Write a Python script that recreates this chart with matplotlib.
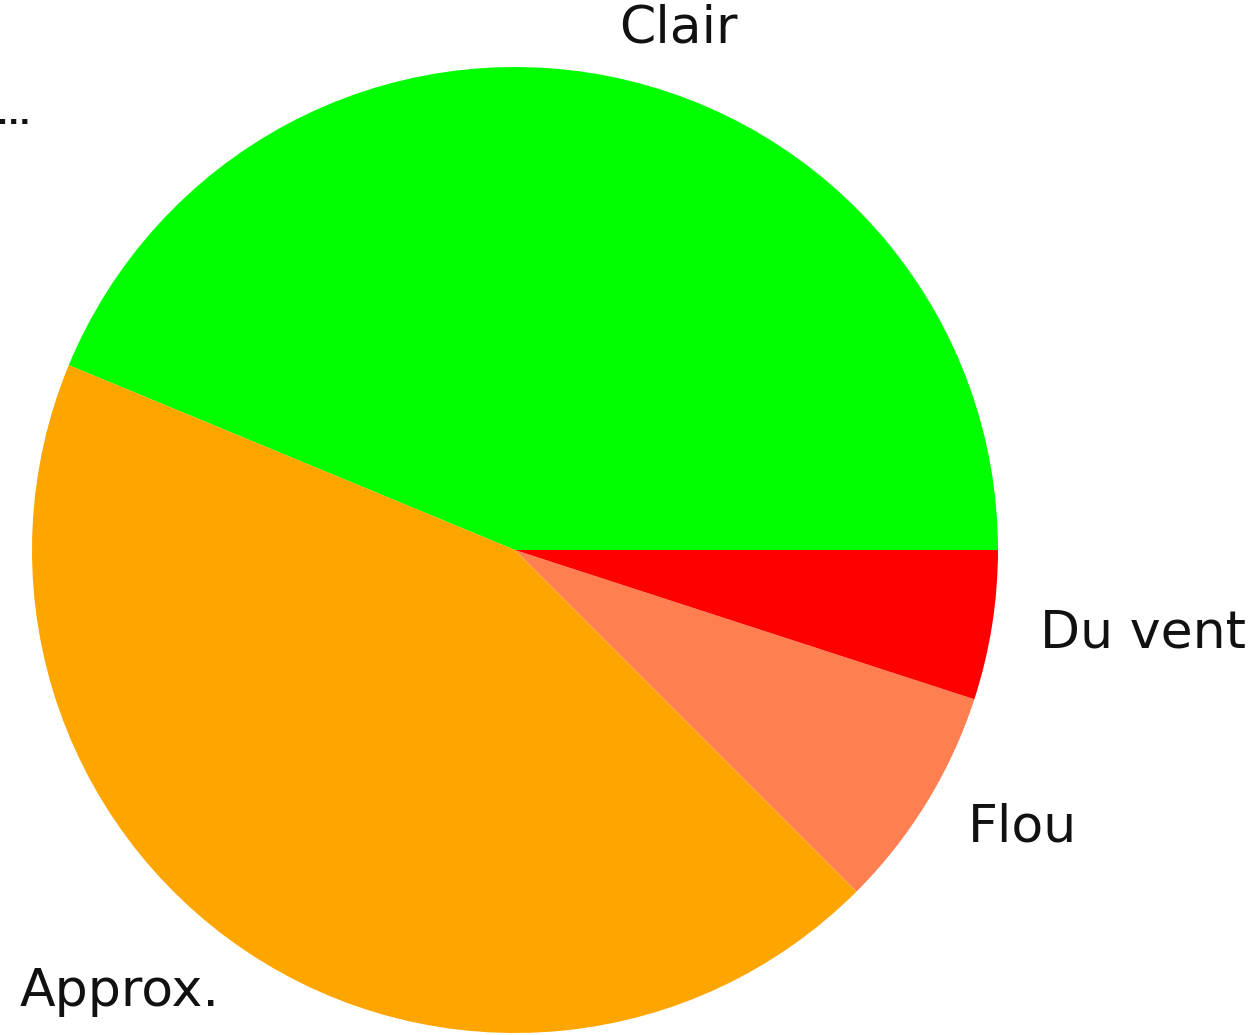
"""
Camembert : répartition Clair / Approx. / Flou / Du vent
"""
import matplotlib
matplotlib.use("Agg")
import matplotlib.pyplot as plt

LABELS = ["Clair", "Approx.", "Flou", "Du vent"]
VALUES = [35, 35, 6, 4]
COLORS = ["#00ff00", "#ffa500", "#ff7f50", "#ff0000"]

# géométrie de l'image (pixels)
W, H = 1256, 1035
CX, CY, R = 515, 550, 483

fig = plt.figure(figsize=(W / 100, H / 100), dpi=100)
ax = fig.add_axes([0, 0, 1, 1])

ax.pie(VALUES, labels=LABELS, colors=COLORS, startangle=0,
       textprops={"fontsize": 37.5, "color": "#111111"})

# fenêtre calée pour que le rayon fasse R pixels
ax.set_xlim(-CX / R, (W - CX) / R)
ax.set_ylim(-(H - CY) / R, CY / R)
ax.set_aspect("equal")
ax.axis("off")

# étiquette tronquée en haut à gauche
ax.text(-0.002, 1 - 124 / H, "...", transform=ax.transAxes, fontsize=21,
        fontweight="bold", ha="left", va="baseline", color="#111111")

fig.savefig("out.png", dpi=100)
plt.close(fig)
